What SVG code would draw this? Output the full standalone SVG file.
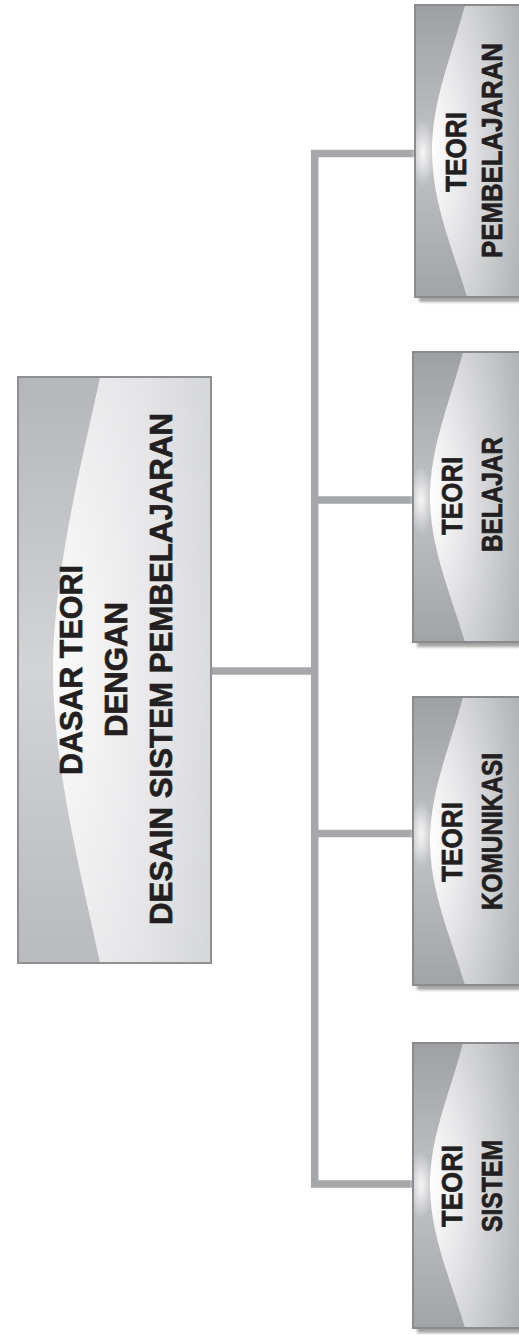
<svg xmlns="http://www.w3.org/2000/svg" width="519" height="1335" viewBox="0 0 519 1335">
  <style>
    .frame { stroke: #8a8b8e; stroke-width: 2; }
    .main-frame { stroke: #8f9093; stroke-width: 2; fill: none; }
    .link { fill: none; stroke: #a6a7ab; stroke-width: 7.5; stroke-linejoin: miter; stroke-linecap: butt; }
    .label { font-family: "Liberation Sans", Arial, sans-serif; font-weight: bold; fill: #231f20; stroke: #231f20; stroke-width: 0.7; text-anchor: middle; }
    .big { font-size: 32px; }
    .small { font-size: 29px; }
  </style>
  <defs>
    <!-- dark outer band of the small boxes -->
    <linearGradient id="smallBase" x1="0" y1="0" x2="0" y2="1">
      <stop offset="0" stop-color="#9fa0a3"/>
      <stop offset="0.5" stop-color="#c2c3c6"/>
      <stop offset="1" stop-color="#a2a3a6"/>
    </linearGradient>
    <!-- glossy lit face of the small boxes -->
    <radialGradient id="smallGloss" cx="0" cy="0.5" r="1.05">
      <stop offset="0" stop-color="#ffffff"/>
      <stop offset="0.35" stop-color="#e6e6e8"/>
      <stop offset="0.7" stop-color="#c9cacc"/>
      <stop offset="1" stop-color="#b1b2b5"/>
    </radialGradient>
    <radialGradient id="glow" cx="0.5" cy="0.5" r="0.5">
      <stop offset="0" stop-color="#ffffff" stop-opacity="0.85"/>
      <stop offset="1" stop-color="#ffffff" stop-opacity="0"/>
    </radialGradient>
    <!-- main box -->
    <linearGradient id="mainBase" x1="0" y1="0" x2="0" y2="1">
      <stop offset="0" stop-color="#b5b6b9"/>
      <stop offset="0.5" stop-color="#d3d4d6"/>
      <stop offset="1" stop-color="#b9babd"/>
    </linearGradient>
    <radialGradient id="mainGloss" cx="0" cy="0.5" r="1.2">
      <stop offset="0" stop-color="#fbfbfb"/>
      <stop offset="0.55" stop-color="#e7e7e9"/>
      <stop offset="1" stop-color="#d2d3d5"/>
    </radialGradient>
    <filter id="shadow" x="-10%" y="-10%" width="130%" height="130%">
      <feGaussianBlur stdDeviation="1.8"/>
    </filter>
  </defs>

  <!-- connectors -->
  <g id="connectors">
    <path class="link" d="M415,153.5 H314.7 V1184 H413"/>
    <path class="link" d="M314.7,500 H413"/>
    <path class="link" d="M314.7,833.5 H413"/>
    <path class="link" d="M211,671 H314.7"/>
  </g>

  <!-- root node -->
  <g id="node-dasar-teori">
    <rect x="18" y="377" width="193" height="586" fill="url(#mainBase)"/>
    <path d="M100,377 C85,450 53,570 53,670 C53,770 85,890 100,963 L211,963 L211,377 Z" fill="url(#mainGloss)"/>
    <rect class="main-frame" x="18" y="377" width="193" height="586"/>
    <text class="label big" transform="translate(82,670) rotate(-90)" textLength="210" lengthAdjust="spacingAndGlyphs">DASAR TEORI</text>
    <text class="label big" transform="translate(127,669.5) rotate(-90)" textLength="135" lengthAdjust="spacingAndGlyphs">DENGAN</text>
    <text class="label big" transform="translate(172,669) rotate(-90)" textLength="512" lengthAdjust="spacingAndGlyphs">DESAIN SISTEM PEMBELAJARAN</text>
  </g>

  <!-- child: teori pembelajaran -->
  <g id="node-teori-pembelajaran">
    <rect x="419" y="10" width="110" height="292" fill="#8c8c8c" opacity="0.8" filter="url(#shadow)"/>
    <rect x="415" y="5" width="110" height="292" fill="url(#smallBase)"/>
    <path d="M465,5 C452,55 432,100 432,151 C432,202 452,247 467,297 L525,297 L525,5 Z" fill="url(#smallGloss)"/>
    <ellipse cx="423" cy="153" rx="12" ry="34" fill="url(#glow)"/>
    <rect class="frame" x="415" y="5" width="110" height="292" fill="none"/>
    <text class="label small" transform="translate(466,152) rotate(-90)" textLength="80" lengthAdjust="spacingAndGlyphs">TEORI</text>
    <text class="label small" transform="translate(502,150.5) rotate(-90)" textLength="215" lengthAdjust="spacingAndGlyphs">PEMBELAJARAN</text>
  </g>

  <!-- child: teori belajar -->
  <g id="node-teori-belajar">
    <rect x="417" y="357" width="110" height="290" fill="#8c8c8c" opacity="0.8" filter="url(#shadow)"/>
    <rect x="413" y="352" width="112" height="290" fill="url(#smallBase)"/>
    <path d="M463,352 C450,402 430,447 430,497 C430,547 450,592 465,642 L525,642 L525,352 Z" fill="url(#smallGloss)"/>
    <ellipse cx="421" cy="500" rx="12" ry="34" fill="url(#glow)"/>
    <rect class="frame" x="413" y="352" width="112" height="290" fill="none"/>
    <text class="label small" transform="translate(462,496) rotate(-90)" textLength="78" lengthAdjust="spacingAndGlyphs">TEORI</text>
    <text class="label small" transform="translate(502,494.5) rotate(-90)" textLength="115" lengthAdjust="spacingAndGlyphs">BELAJAR</text>
  </g>

  <!-- child: teori komunikasi -->
  <g id="node-teori-komunikasi">
    <rect x="417" y="702" width="110" height="288" fill="#8c8c8c" opacity="0.8" filter="url(#shadow)"/>
    <rect x="413" y="697" width="112" height="288" fill="url(#smallBase)"/>
    <path d="M463,697 C450,747 430,791 430,841 C430,891 450,935 465,985 L525,985 L525,697 Z" fill="url(#smallGloss)"/>
    <ellipse cx="421" cy="834" rx="12" ry="34" fill="url(#glow)"/>
    <rect class="frame" x="413" y="697" width="112" height="288" fill="none"/>
    <text class="label small" transform="translate(462,842) rotate(-90)" textLength="80" lengthAdjust="spacingAndGlyphs">TEORI</text>
    <text class="label small" transform="translate(502,831.5) rotate(-90)" textLength="157" lengthAdjust="spacingAndGlyphs">KOMUNIKASI</text>
  </g>

  <!-- child: teori sistem -->
  <g id="node-teori-sistem">
    <rect x="417" y="1048" width="110" height="285" fill="#8c8c8c" opacity="0.8" filter="url(#shadow)"/>
    <rect x="413" y="1043" width="112" height="285" fill="url(#smallBase)"/>
    <path d="M463,1043 C450,1093 430,1136 430,1185 C430,1234 450,1278 465,1328 L525,1328 L525,1043 Z" fill="url(#smallGloss)"/>
    <ellipse cx="421" cy="1185" rx="12" ry="34" fill="url(#glow)"/>
    <rect class="frame" x="413" y="1043" width="112" height="285" fill="none"/>
    <text class="label small" transform="translate(462,1186) rotate(-90)" textLength="82" lengthAdjust="spacingAndGlyphs">TEORI</text>
    <text class="label small" transform="translate(502,1186) rotate(-90)" textLength="92" lengthAdjust="spacingAndGlyphs">SISTEM</text>
  </g>
</svg>
